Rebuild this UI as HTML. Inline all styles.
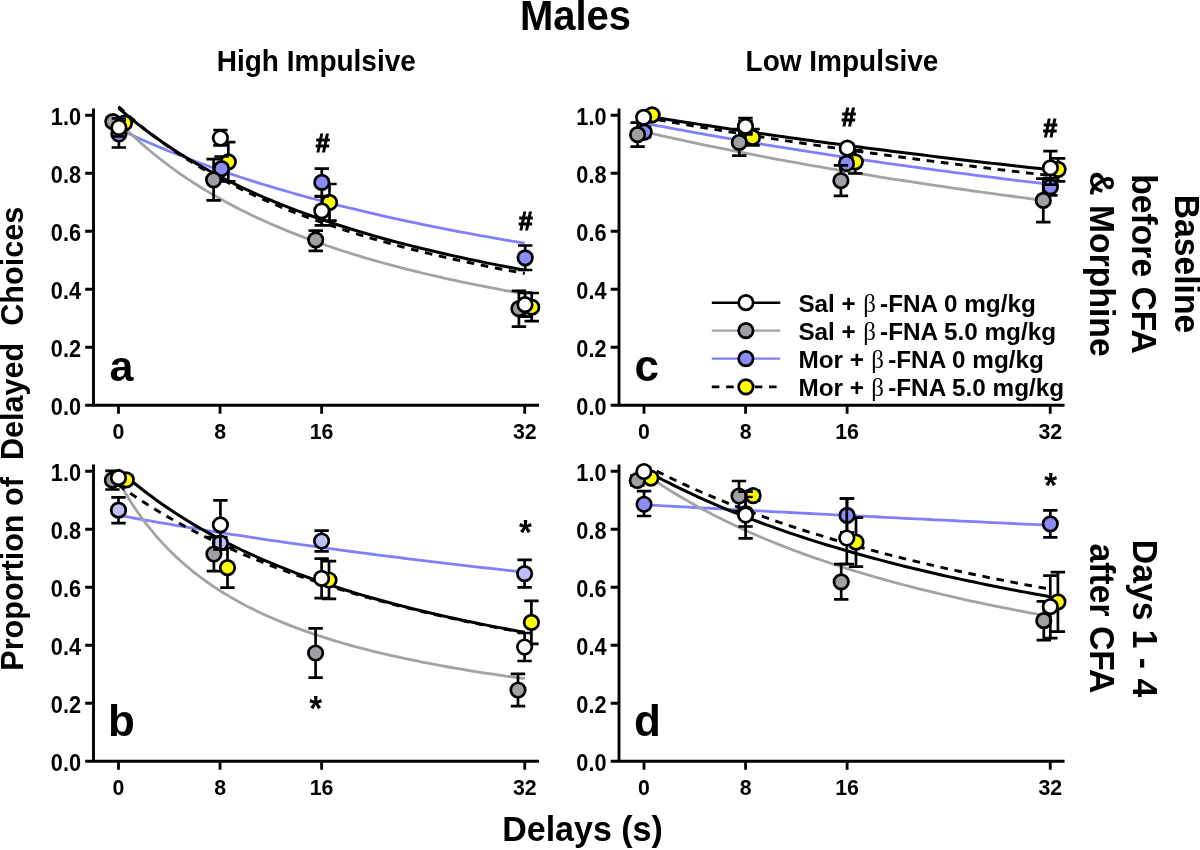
<!DOCTYPE html>
<html><head><meta charset="utf-8"><title>Males</title>
<style>html,body{margin:0;padding:0;background:#fff;width:1200px;height:850px;overflow:hidden}
svg{display:block;will-change:transform}
text{font-family:"Liberation Sans", sans-serif;font-weight:bold;fill:#000}
</style></head><body>
<svg width="1200" height="850" viewBox="0 0 1200 850">
<rect width="1200" height="850" fill="#fff"/>
<path d="M93.50 108.58 V406.70 M85.20 405.25 H539.04" stroke="#000" stroke-width="2.9" fill="none"/>
<path d="M85.20 347.25 H93.50 M85.20 289.25 H93.50 M85.20 231.25 H93.50 M85.20 173.25 H93.50 M85.20 115.25 H93.50 M118.50 405.25 V413.75 M220.06 405.25 V413.75 M321.62 405.25 V413.75 M524.74 405.25 V413.75" stroke="#000" stroke-width="2.8" fill="none"/>
<text transform="translate(81.00 414.85) scale(1 1.09)" font-size="21.7" text-anchor="end" >0.0</text>
<text transform="translate(81.00 356.85) scale(1 1.09)" font-size="21.7" text-anchor="end" >0.2</text>
<text transform="translate(81.00 298.85) scale(1 1.09)" font-size="21.7" text-anchor="end" >0.4</text>
<text transform="translate(81.00 240.85) scale(1 1.09)" font-size="21.7" text-anchor="end" >0.6</text>
<text transform="translate(81.00 182.85) scale(1 1.09)" font-size="21.7" text-anchor="end" >0.8</text>
<text transform="translate(81.00 124.85) scale(1 1.09)" font-size="21.7" text-anchor="end" >1.0</text>
<text transform="translate(118.50 439.05) scale(1 1.07)" font-size="21.3" text-anchor="middle" >0</text>
<text transform="translate(220.06 439.05) scale(1 1.07)" font-size="21.3" text-anchor="middle" >8</text>
<text transform="translate(321.62 439.05) scale(1 1.07)" font-size="21.3" text-anchor="middle" >16</text>
<text transform="translate(524.74 439.05) scale(1 1.07)" font-size="21.3" text-anchor="middle" >32</text>
<path d="M619.00 108.58 V406.70 M610.70 405.25 H1064.54" stroke="#000" stroke-width="2.9" fill="none"/>
<path d="M610.70 347.25 H619.00 M610.70 289.25 H619.00 M610.70 231.25 H619.00 M610.70 173.25 H619.00 M610.70 115.25 H619.00 M644.00 405.25 V413.75 M745.56 405.25 V413.75 M847.12 405.25 V413.75 M1050.24 405.25 V413.75" stroke="#000" stroke-width="2.8" fill="none"/>
<text transform="translate(606.50 414.85) scale(1 1.09)" font-size="21.7" text-anchor="end" >0.0</text>
<text transform="translate(606.50 356.85) scale(1 1.09)" font-size="21.7" text-anchor="end" >0.2</text>
<text transform="translate(606.50 298.85) scale(1 1.09)" font-size="21.7" text-anchor="end" >0.4</text>
<text transform="translate(606.50 240.85) scale(1 1.09)" font-size="21.7" text-anchor="end" >0.6</text>
<text transform="translate(606.50 182.85) scale(1 1.09)" font-size="21.7" text-anchor="end" >0.8</text>
<text transform="translate(606.50 124.85) scale(1 1.09)" font-size="21.7" text-anchor="end" >1.0</text>
<text transform="translate(644.00 439.05) scale(1 1.07)" font-size="21.3" text-anchor="middle" >0</text>
<text transform="translate(745.56 439.05) scale(1 1.07)" font-size="21.3" text-anchor="middle" >8</text>
<text transform="translate(847.12 439.05) scale(1 1.07)" font-size="21.3" text-anchor="middle" >16</text>
<text transform="translate(1050.24 439.05) scale(1 1.07)" font-size="21.3" text-anchor="middle" >32</text>
<path d="M93.50 464.58 V762.70 M85.20 761.25 H539.04" stroke="#000" stroke-width="2.9" fill="none"/>
<path d="M85.20 703.25 H93.50 M85.20 645.25 H93.50 M85.20 587.25 H93.50 M85.20 529.25 H93.50 M85.20 471.25 H93.50 M118.50 761.25 V769.75 M220.06 761.25 V769.75 M321.62 761.25 V769.75 M524.74 761.25 V769.75" stroke="#000" stroke-width="2.8" fill="none"/>
<text transform="translate(81.00 770.85) scale(1 1.09)" font-size="21.7" text-anchor="end" >0.0</text>
<text transform="translate(81.00 712.85) scale(1 1.09)" font-size="21.7" text-anchor="end" >0.2</text>
<text transform="translate(81.00 654.85) scale(1 1.09)" font-size="21.7" text-anchor="end" >0.4</text>
<text transform="translate(81.00 596.85) scale(1 1.09)" font-size="21.7" text-anchor="end" >0.6</text>
<text transform="translate(81.00 538.85) scale(1 1.09)" font-size="21.7" text-anchor="end" >0.8</text>
<text transform="translate(81.00 480.85) scale(1 1.09)" font-size="21.7" text-anchor="end" >1.0</text>
<text transform="translate(118.50 795.05) scale(1 1.07)" font-size="21.3" text-anchor="middle" >0</text>
<text transform="translate(220.06 795.05) scale(1 1.07)" font-size="21.3" text-anchor="middle" >8</text>
<text transform="translate(321.62 795.05) scale(1 1.07)" font-size="21.3" text-anchor="middle" >16</text>
<text transform="translate(524.74 795.05) scale(1 1.07)" font-size="21.3" text-anchor="middle" >32</text>
<path d="M619.00 464.58 V762.70 M610.70 761.25 H1064.54" stroke="#000" stroke-width="2.9" fill="none"/>
<path d="M610.70 703.25 H619.00 M610.70 645.25 H619.00 M610.70 587.25 H619.00 M610.70 529.25 H619.00 M610.70 471.25 H619.00 M644.00 761.25 V769.75 M745.56 761.25 V769.75 M847.12 761.25 V769.75 M1050.24 761.25 V769.75" stroke="#000" stroke-width="2.8" fill="none"/>
<text transform="translate(606.50 770.85) scale(1 1.09)" font-size="21.7" text-anchor="end" >0.0</text>
<text transform="translate(606.50 712.85) scale(1 1.09)" font-size="21.7" text-anchor="end" >0.2</text>
<text transform="translate(606.50 654.85) scale(1 1.09)" font-size="21.7" text-anchor="end" >0.4</text>
<text transform="translate(606.50 596.85) scale(1 1.09)" font-size="21.7" text-anchor="end" >0.6</text>
<text transform="translate(606.50 538.85) scale(1 1.09)" font-size="21.7" text-anchor="end" >0.8</text>
<text transform="translate(606.50 480.85) scale(1 1.09)" font-size="21.7" text-anchor="end" >1.0</text>
<text transform="translate(644.00 795.05) scale(1 1.07)" font-size="21.3" text-anchor="middle" >0</text>
<text transform="translate(745.56 795.05) scale(1 1.07)" font-size="21.3" text-anchor="middle" >8</text>
<text transform="translate(847.12 795.05) scale(1 1.07)" font-size="21.3" text-anchor="middle" >16</text>
<text transform="translate(1050.24 795.05) scale(1 1.07)" font-size="21.3" text-anchor="middle" >32</text>
<path d="M118.50 128.81 L124.85 131.83 L131.19 134.78 L137.54 137.67 L143.89 140.50 L150.24 143.27 L156.59 145.98 L162.93 148.63 L169.28 151.23 L175.63 153.78 L181.97 156.28 L188.32 158.73 L194.67 161.14 L201.02 163.49 L207.37 165.80 L213.71 168.07 L220.06 170.29 L226.41 172.48 L232.75 174.62 L239.10 176.72 L245.45 178.79 L251.80 180.82 L258.14 182.81 L264.49 184.77 L270.84 186.69 L277.19 188.58 L283.53 190.44 L289.88 192.27 L296.23 194.06 L302.58 195.83 L308.93 197.56 L315.27 199.27 L321.62 200.95 L327.97 202.60 L334.31 204.23 L340.66 205.83 L347.01 207.41 L353.36 208.96 L359.71 210.48 L366.05 211.98 L372.40 213.46 L378.75 214.92 L385.10 216.36 L391.44 217.77 L397.79 219.16 L404.14 220.54 L410.49 221.89 L416.83 223.22 L423.18 224.53 L429.53 225.83 L435.88 227.10 L442.22 228.36 L448.57 229.60 L454.92 230.82 L461.26 232.03 L467.61 233.22 L473.96 234.39 L480.31 235.55 L486.66 236.69 L493.00 237.82 L499.35 238.93 L505.70 240.03 L512.05 241.11 L518.39 242.18 L524.74 243.23" fill="none" stroke="#8080ff" stroke-width="2.8"/>
<path d="M118.50 121.68 L124.85 128.05 L131.19 134.16 L137.54 140.01 L143.89 145.63 L150.24 151.02 L156.59 156.21 L162.93 161.20 L169.28 166.00 L175.63 170.62 L181.97 175.08 L188.32 179.38 L194.67 183.52 L201.02 187.53 L207.37 191.40 L213.71 195.14 L220.06 198.76 L226.41 202.26 L232.75 205.65 L239.10 208.93 L245.45 212.11 L251.80 215.20 L258.14 218.19 L264.49 221.10 L270.84 223.92 L277.19 226.65 L283.53 229.32 L289.88 231.90 L296.23 234.42 L302.58 236.86 L308.93 239.24 L315.27 241.56 L321.62 243.82 L327.97 246.01 L334.31 248.16 L340.66 250.24 L347.01 252.28 L353.36 254.26 L359.71 256.20 L366.05 258.09 L372.40 259.93 L378.75 261.73 L385.10 263.49 L391.44 265.21 L397.79 266.89 L404.14 268.53 L410.49 270.14 L416.83 271.71 L423.18 273.24 L429.53 274.74 L435.88 276.21 L442.22 277.65 L448.57 279.06 L454.92 280.43 L461.26 281.78 L467.61 283.11 L473.96 284.40 L480.31 285.67 L486.66 286.92 L493.00 288.14 L499.35 289.33 L505.70 290.51 L512.05 291.66 L518.39 292.79 L524.74 293.90" fill="none" stroke="#a3a3a6" stroke-width="2.8"/>
<path d="M118.50 106.55 L124.85 112.35 L131.19 117.93 L137.54 123.30 L143.89 128.47 L150.24 133.46 L156.59 138.27 L162.93 142.91 L169.28 147.39 L175.63 151.73 L181.97 155.92 L188.32 159.97 L194.67 163.90 L201.02 167.70 L207.37 171.38 L213.71 174.95 L220.06 178.41 L226.41 181.77 L232.75 185.03 L239.10 188.20 L245.45 191.28 L251.80 194.27 L258.14 197.18 L264.49 200.01 L270.84 202.77 L277.19 205.45 L283.53 208.06 L289.88 210.61 L296.23 213.09 L302.58 215.50 L308.93 217.86 L315.27 220.16 L321.62 222.40 L327.97 224.59 L334.31 226.73 L340.66 228.82 L347.01 230.86 L353.36 232.85 L359.71 234.80 L366.05 236.70 L372.40 238.56 L378.75 240.39 L385.10 242.17 L391.44 243.91 L397.79 245.62 L404.14 247.29 L410.49 248.93 L416.83 250.53 L423.18 252.10 L429.53 253.64 L435.88 255.15 L442.22 256.63 L448.57 258.08 L454.92 259.50 L461.26 260.89 L467.61 262.26 L473.96 263.61 L480.31 264.92 L486.66 266.22 L493.00 267.49 L499.35 268.73 L505.70 269.96 L512.05 271.16 L518.39 272.34 L524.74 273.50" fill="none" stroke="#000" stroke-width="2.9" stroke-dasharray="7.6 6.7"/>
<path d="M118.50 108.00 L124.85 113.47 L131.19 118.74 L137.54 123.83 L143.89 128.74 L150.24 133.48 L156.59 138.06 L162.93 142.49 L169.28 146.77 L175.63 150.92 L181.97 154.93 L188.32 158.83 L194.67 162.60 L201.02 166.26 L207.37 169.80 L213.71 173.25 L220.06 176.60 L226.41 179.85 L232.75 183.01 L239.10 186.08 L245.45 189.07 L251.80 191.98 L258.14 194.81 L264.49 197.56 L270.84 200.25 L277.19 202.87 L283.53 205.42 L289.88 207.91 L296.23 210.33 L302.58 212.70 L308.93 215.01 L315.27 217.27 L321.62 219.47 L327.97 221.62 L334.31 223.72 L340.66 225.78 L347.01 227.79 L353.36 229.75 L359.71 231.67 L366.05 233.55 L372.40 235.39 L378.75 237.19 L385.10 238.96 L391.44 240.68 L397.79 242.37 L404.14 244.03 L410.49 245.65 L416.83 247.24 L423.18 248.80 L429.53 250.33 L435.88 251.83 L442.22 253.30 L448.57 254.74 L454.92 256.16 L461.26 257.55 L467.61 258.91 L473.96 260.25 L480.31 261.56 L486.66 262.85 L493.00 264.12 L499.35 265.37 L505.70 266.59 L512.05 267.79 L518.39 268.97 L524.74 270.14" fill="none" stroke="#000" stroke-width="3.0"/>
<path d="M124.50 119.00 V127.00 M117.30 119.00 H131.70 M117.30 127.00 H131.70" stroke="#000" stroke-width="2.7" fill="none"/>
<circle cx="124.50" cy="123.00" r="7.25" fill="#ffff00" stroke="#000" stroke-width="2.7"/>
<path d="M228.30 142.20 V181.40 M221.10 142.20 H235.50 M221.10 181.40 H235.50" stroke="#000" stroke-width="2.7" fill="none"/>
<circle cx="228.30" cy="161.80" r="7.25" fill="#ffff00" stroke="#000" stroke-width="2.7"/>
<path d="M329.50 184.00 V220.60 M322.30 184.00 H336.70 M322.30 220.60 H336.70" stroke="#000" stroke-width="2.7" fill="none"/>
<circle cx="329.50" cy="202.30" r="7.25" fill="#ffff00" stroke="#000" stroke-width="2.7"/>
<path d="M531.70 293.00 V321.10 M524.50 293.00 H538.90 M524.50 321.10 H538.90" stroke="#000" stroke-width="2.7" fill="none"/>
<circle cx="531.70" cy="307.20" r="7.25" fill="#ffff00" stroke="#000" stroke-width="2.7"/>
<path d="M118.90 120.50 V147.50 M111.70 120.50 H126.10 M111.70 147.50 H126.10" stroke="#000" stroke-width="2.7" fill="none"/>
<circle cx="118.90" cy="134.00" r="7.25" fill="#8c8cf8" stroke="#000" stroke-width="2.7"/>
<path d="M221.50 156.50 V180.90 M214.30 156.50 H228.70 M214.30 180.90 H228.70" stroke="#000" stroke-width="2.7" fill="none"/>
<circle cx="221.50" cy="168.70" r="7.25" fill="#8c8cf8" stroke="#000" stroke-width="2.7"/>
<path d="M321.80 168.60 V196.20 M314.60 168.60 H329.00 M314.60 196.20 H329.00" stroke="#000" stroke-width="2.7" fill="none"/>
<circle cx="321.80" cy="182.40" r="7.25" fill="#8c8cf8" stroke="#000" stroke-width="2.7"/>
<path d="M525.20 245.50 V270.00 M518.00 245.50 H532.40 M518.00 270.00 H532.40" stroke="#000" stroke-width="2.7" fill="none"/>
<circle cx="525.20" cy="257.80" r="7.25" fill="#8c8cf8" stroke="#000" stroke-width="2.7"/>
<path d="M112.80 117.60 V125.60 M105.60 117.60 H120.00 M105.60 125.60 H120.00" stroke="#000" stroke-width="2.7" fill="none"/>
<circle cx="112.80" cy="121.60" r="7.25" fill="#a0a0a4" stroke="#000" stroke-width="2.7"/>
<path d="M213.60 159.20 V200.40 M206.40 159.20 H220.80 M206.40 200.40 H220.80" stroke="#000" stroke-width="2.7" fill="none"/>
<circle cx="213.60" cy="179.80" r="7.25" fill="#a0a0a4" stroke="#000" stroke-width="2.7"/>
<path d="M315.70 230.70 V250.90 M308.50 230.70 H322.90 M308.50 250.90 H322.90" stroke="#000" stroke-width="2.7" fill="none"/>
<circle cx="315.70" cy="239.90" r="7.25" fill="#a0a0a4" stroke="#000" stroke-width="2.7"/>
<path d="M518.90 290.90 V326.60 M511.70 290.90 H526.10 M511.70 326.60 H526.10" stroke="#000" stroke-width="2.7" fill="none"/>
<circle cx="518.90" cy="308.70" r="7.25" fill="#a0a0a4" stroke="#000" stroke-width="2.7"/>
<path d="M118.90 118.50 V136.50 M111.70 118.50 H126.10 M111.70 136.50 H126.10" stroke="#000" stroke-width="2.7" fill="none"/>
<circle cx="118.90" cy="127.50" r="7.25" fill="#fff" stroke="#000" stroke-width="2.7"/>
<path d="M220.40 130.00 V145.40 M213.20 130.00 H227.60 M213.20 145.40 H227.60" stroke="#000" stroke-width="2.7" fill="none"/>
<circle cx="220.40" cy="138.00" r="7.25" fill="#fff" stroke="#000" stroke-width="2.7"/>
<path d="M321.80 196.30 V225.30 M314.60 196.30 H329.00 M314.60 225.30 H329.00" stroke="#000" stroke-width="2.7" fill="none"/>
<circle cx="321.80" cy="210.80" r="7.25" fill="#fff" stroke="#000" stroke-width="2.7"/>
<path d="M525.00 292.70 V316.70 M517.80 292.70 H532.20 M517.80 316.70 H532.20" stroke="#000" stroke-width="2.7" fill="none"/>
<circle cx="525.00" cy="304.70" r="7.25" fill="#fff" stroke="#000" stroke-width="2.7"/>
<path d="M644.00 123.08 L650.35 124.30 L656.70 125.51 L663.04 126.71 L669.39 127.89 L675.74 129.07 L682.09 130.24 L688.43 131.40 L694.78 132.55 L701.13 133.69 L707.48 134.82 L713.82 135.94 L720.17 137.05 L726.52 138.15 L732.87 139.24 L739.21 140.33 L745.56 141.40 L751.91 142.47 L758.25 143.53 L764.60 144.58 L770.95 145.62 L777.30 146.65 L783.64 147.67 L789.99 148.69 L796.34 149.70 L802.69 150.70 L809.03 151.69 L815.38 152.68 L821.73 153.65 L828.08 154.62 L834.42 155.59 L840.77 156.54 L847.12 157.49 L853.47 158.43 L859.82 159.36 L866.16 160.29 L872.51 161.21 L878.86 162.12 L885.21 163.03 L891.55 163.93 L897.90 164.82 L904.25 165.70 L910.60 166.58 L916.94 167.46 L923.29 168.32 L929.64 169.18 L935.99 170.04 L942.33 170.89 L948.68 171.73 L955.03 172.56 L961.38 173.39 L967.72 174.22 L974.07 175.03 L980.42 175.85 L986.76 176.65 L993.11 177.45 L999.46 178.25 L1005.81 179.04 L1012.15 179.82 L1018.50 180.60 L1024.85 181.38 L1031.20 182.14 L1037.55 182.91 L1043.89 183.67 L1050.24 184.42" fill="none" stroke="#8080ff" stroke-width="2.8"/>
<path d="M644.00 131.78 L650.35 133.23 L656.70 134.66 L663.04 136.08 L669.39 137.48 L675.74 138.87 L682.09 140.24 L688.43 141.60 L694.78 142.94 L701.13 144.28 L707.48 145.59 L713.82 146.90 L720.17 148.19 L726.52 149.47 L732.87 150.74 L739.21 151.99 L745.56 153.23 L751.91 154.46 L758.25 155.68 L764.60 156.88 L770.95 158.08 L777.30 159.26 L783.64 160.43 L789.99 161.59 L796.34 162.74 L802.69 163.88 L809.03 165.01 L815.38 166.13 L821.73 167.23 L828.08 168.33 L834.42 169.42 L840.77 170.50 L847.12 171.56 L853.47 172.62 L859.82 173.67 L866.16 174.71 L872.51 175.74 L878.86 176.76 L885.21 177.77 L891.55 178.77 L897.90 179.76 L904.25 180.75 L910.60 181.72 L916.94 182.69 L923.29 183.65 L929.64 184.60 L935.99 185.55 L942.33 186.48 L948.68 187.41 L955.03 188.33 L961.38 189.24 L967.72 190.14 L974.07 191.04 L980.42 191.93 L986.76 192.81 L993.11 193.68 L999.46 194.55 L1005.81 195.41 L1012.15 196.26 L1018.50 197.11 L1024.85 197.95 L1031.20 198.78 L1037.55 199.61 L1043.89 200.43 L1050.24 201.24" fill="none" stroke="#a3a3a6" stroke-width="2.8"/>
<path d="M644.00 117.28 L650.35 118.42 L656.70 119.55 L663.04 120.67 L669.39 121.78 L675.74 122.88 L682.09 123.97 L688.43 125.06 L694.78 126.13 L701.13 127.20 L707.48 128.26 L713.82 129.31 L720.17 130.36 L726.52 131.40 L732.87 132.42 L739.21 133.45 L745.56 134.46 L751.91 135.46 L758.25 136.46 L764.60 137.45 L770.95 138.44 L777.30 139.41 L783.64 140.38 L789.99 141.35 L796.34 142.30 L802.69 143.25 L809.03 144.19 L815.38 145.13 L821.73 146.06 L828.08 146.98 L834.42 147.89 L840.77 148.80 L847.12 149.70 L853.47 150.60 L859.82 151.49 L866.16 152.37 L872.51 153.25 L878.86 154.12 L885.21 154.99 L891.55 155.85 L897.90 156.70 L904.25 157.55 L910.60 158.39 L916.94 159.23 L923.29 160.06 L929.64 160.88 L935.99 161.70 L942.33 162.51 L948.68 163.32 L955.03 164.13 L961.38 164.92 L967.72 165.72 L974.07 166.50 L980.42 167.29 L986.76 168.06 L993.11 168.84 L999.46 169.60 L1005.81 170.37 L1012.15 171.12 L1018.50 171.87 L1024.85 172.62 L1031.20 173.36 L1037.55 174.10 L1043.89 174.84 L1050.24 175.56" fill="none" stroke="#000" stroke-width="2.9" stroke-dasharray="7.6 6.7"/>
<path d="M644.00 115.54 L650.35 116.58 L656.70 117.61 L663.04 118.63 L669.39 119.65 L675.74 120.66 L682.09 121.66 L688.43 122.65 L694.78 123.64 L701.13 124.62 L707.48 125.59 L713.82 126.56 L720.17 127.52 L726.52 128.48 L732.87 129.42 L739.21 130.36 L745.56 131.30 L751.91 132.23 L758.25 133.15 L764.60 134.06 L770.95 134.97 L777.30 135.88 L783.64 136.77 L789.99 137.67 L796.34 138.55 L802.69 139.43 L809.03 140.30 L815.38 141.17 L821.73 142.04 L828.08 142.89 L834.42 143.74 L840.77 144.59 L847.12 145.43 L853.47 146.26 L859.82 147.09 L866.16 147.92 L872.51 148.74 L878.86 149.55 L885.21 150.36 L891.55 151.16 L897.90 151.96 L904.25 152.76 L910.60 153.54 L916.94 154.33 L923.29 155.11 L929.64 155.88 L935.99 156.65 L942.33 157.42 L948.68 158.18 L955.03 158.93 L961.38 159.68 L967.72 160.43 L974.07 161.17 L980.42 161.91 L986.76 162.64 L993.11 163.37 L999.46 164.09 L1005.81 164.81 L1012.15 165.53 L1018.50 166.24 L1024.85 166.94 L1031.20 167.65 L1037.55 168.34 L1043.89 169.04 L1050.24 169.73" fill="none" stroke="#000" stroke-width="3.0"/>
<path d="M652.10 111.80 V117.80 M644.90 111.80 H659.30 M644.90 117.80 H659.30" stroke="#000" stroke-width="2.7" fill="none"/>
<circle cx="652.10" cy="114.80" r="7.25" fill="#ffff00" stroke="#000" stroke-width="2.7"/>
<path d="M752.50 129.20 V145.30 M745.30 129.20 H759.70 M745.30 145.30 H759.70" stroke="#000" stroke-width="2.7" fill="none"/>
<circle cx="752.50" cy="137.40" r="7.25" fill="#ffff00" stroke="#000" stroke-width="2.7"/>
<path d="M855.30 150.10 V173.50 M848.10 150.10 H862.50 M848.10 173.50 H862.50" stroke="#000" stroke-width="2.7" fill="none"/>
<circle cx="855.30" cy="161.80" r="7.25" fill="#ffff00" stroke="#000" stroke-width="2.7"/>
<path d="M1058.10 158.40 V181.30 M1050.90 158.40 H1065.30 M1050.90 181.30 H1065.30" stroke="#000" stroke-width="2.7" fill="none"/>
<circle cx="1058.10" cy="169.30" r="7.25" fill="#ffff00" stroke="#000" stroke-width="2.7"/>
<path d="M644.20 127.10 V137.10 M637.00 127.10 H651.40 M637.00 137.10 H651.40" stroke="#000" stroke-width="2.7" fill="none"/>
<circle cx="644.20" cy="132.10" r="7.25" fill="#8c8cf8" stroke="#000" stroke-width="2.7"/>
<path d="M745.50 121.00 V133.00 M738.30 121.00 H752.70 M738.30 133.00 H752.70" stroke="#000" stroke-width="2.7" fill="none"/>
<circle cx="745.50" cy="127.00" r="7.25" fill="#8c8cf8" stroke="#000" stroke-width="2.7"/>
<path d="M846.50 158.50 V168.50 M839.30 158.50 H853.70 M839.30 168.50 H853.70" stroke="#000" stroke-width="2.7" fill="none"/>
<circle cx="846.50" cy="163.50" r="7.25" fill="#8c8cf8" stroke="#000" stroke-width="2.7"/>
<path d="M1050.40 178.40 V195.40 M1043.20 178.40 H1057.60 M1043.20 195.40 H1057.60" stroke="#000" stroke-width="2.7" fill="none"/>
<circle cx="1050.40" cy="186.90" r="7.25" fill="#8c8cf8" stroke="#000" stroke-width="2.7"/>
<path d="M637.60 122.60 V146.60 M630.40 122.60 H644.80 M630.40 146.60 H644.80" stroke="#000" stroke-width="2.7" fill="none"/>
<circle cx="637.60" cy="134.60" r="7.25" fill="#a0a0a4" stroke="#000" stroke-width="2.7"/>
<path d="M739.30 129.20 V155.60 M732.10 129.20 H746.50 M732.10 155.60 H746.50" stroke="#000" stroke-width="2.7" fill="none"/>
<circle cx="739.30" cy="142.40" r="7.25" fill="#a0a0a4" stroke="#000" stroke-width="2.7"/>
<path d="M840.90 165.30 V195.90 M833.70 165.30 H848.10 M833.70 195.90 H848.10" stroke="#000" stroke-width="2.7" fill="none"/>
<circle cx="840.90" cy="180.60" r="7.25" fill="#a0a0a4" stroke="#000" stroke-width="2.7"/>
<path d="M1043.30 178.60 V222.20 M1036.10 178.60 H1050.50 M1036.10 222.20 H1050.50" stroke="#000" stroke-width="2.7" fill="none"/>
<circle cx="1043.30" cy="200.40" r="7.25" fill="#a0a0a4" stroke="#000" stroke-width="2.7"/>
<path d="M643.60 114.30 V120.30 M636.40 114.30 H650.80 M636.40 120.30 H650.80" stroke="#000" stroke-width="2.7" fill="none"/>
<circle cx="643.60" cy="117.30" r="7.25" fill="#fff" stroke="#000" stroke-width="2.7"/>
<path d="M745.50 118.10 V134.50 M738.30 118.10 H752.70 M738.30 134.50 H752.70" stroke="#000" stroke-width="2.7" fill="none"/>
<circle cx="745.50" cy="126.30" r="7.25" fill="#fff" stroke="#000" stroke-width="2.7"/>
<path d="M847.30 144.20 V152.20 M840.10 144.20 H854.50 M840.10 152.20 H854.50" stroke="#000" stroke-width="2.7" fill="none"/>
<circle cx="847.30" cy="148.20" r="7.25" fill="#fff" stroke="#000" stroke-width="2.7"/>
<path d="M1050.40 151.20 V184.60 M1043.20 151.20 H1057.60 M1043.20 184.60 H1057.60" stroke="#000" stroke-width="2.7" fill="none"/>
<circle cx="1050.40" cy="167.90" r="7.25" fill="#fff" stroke="#000" stroke-width="2.7"/>
<path d="M118.50 515.33 L124.85 516.48 L131.19 517.62 L137.54 518.75 L143.89 519.87 L150.24 520.97 L156.59 522.07 L162.93 523.16 L169.28 524.24 L175.63 525.31 L181.97 526.37 L188.32 527.42 L194.67 528.46 L201.02 529.49 L207.37 530.51 L213.71 531.52 L220.06 532.53 L226.41 533.52 L232.75 534.51 L239.10 535.49 L245.45 536.46 L251.80 537.42 L258.14 538.37 L264.49 539.32 L270.84 540.26 L277.19 541.18 L283.53 542.11 L289.88 543.02 L296.23 543.93 L302.58 544.83 L308.93 545.72 L315.27 546.60 L321.62 547.48 L327.97 548.35 L334.31 549.21 L340.66 550.07 L347.01 550.92 L353.36 551.76 L359.71 552.59 L366.05 553.42 L372.40 554.24 L378.75 555.06 L385.10 555.87 L391.44 556.67 L397.79 557.47 L404.14 558.26 L410.49 559.04 L416.83 559.82 L423.18 560.59 L429.53 561.36 L435.88 562.12 L442.22 562.88 L448.57 563.63 L454.92 564.37 L461.26 565.11 L467.61 565.84 L473.96 566.57 L480.31 567.29 L486.66 568.01 L493.00 568.72 L499.35 569.42 L505.70 570.12 L512.05 570.82 L518.39 571.51 L524.74 572.19" fill="none" stroke="#8080ff" stroke-width="2.8"/>
<path d="M118.50 481.03 L124.85 492.27 L131.19 502.58 L137.54 512.07 L143.89 520.85 L150.24 528.98 L156.59 536.55 L162.93 543.60 L169.28 550.19 L175.63 556.37 L181.97 562.17 L188.32 567.63 L194.67 572.78 L201.02 577.64 L207.37 582.24 L213.71 586.59 L220.06 590.73 L226.41 594.66 L232.75 598.40 L239.10 601.96 L245.45 605.36 L251.80 608.61 L258.14 611.72 L264.49 614.69 L270.84 617.54 L277.19 620.27 L283.53 622.89 L289.88 625.41 L296.23 627.83 L302.58 630.17 L308.93 632.41 L315.27 634.57 L321.62 636.66 L327.97 638.68 L334.31 640.62 L340.66 642.50 L347.01 644.32 L353.36 646.08 L359.71 647.79 L366.05 649.44 L372.40 651.04 L378.75 652.59 L385.10 654.09 L391.44 655.55 L397.79 656.97 L404.14 658.35 L410.49 659.69 L416.83 660.99 L423.18 662.26 L429.53 663.49 L435.88 664.69 L442.22 665.86 L448.57 667.00 L454.92 668.11 L461.26 669.19 L467.61 670.25 L473.96 671.28 L480.31 672.28 L486.66 673.26 L493.00 674.22 L499.35 675.16 L505.70 676.07 L512.05 676.97 L518.39 677.84 L524.74 678.70" fill="none" stroke="#a3a3a6" stroke-width="2.8"/>
<path d="M118.50 485.05 L124.85 489.55 L131.19 493.92 L137.54 498.17 L143.89 502.29 L150.24 506.30 L156.59 510.20 L162.93 513.99 L169.28 517.69 L175.63 521.28 L181.97 524.78 L188.32 528.19 L194.67 531.51 L201.02 534.74 L207.37 537.90 L213.71 540.97 L220.06 543.97 L226.41 546.90 L232.75 549.76 L239.10 552.55 L245.45 555.27 L251.80 557.93 L258.14 560.53 L264.49 563.07 L270.84 565.55 L277.19 567.98 L283.53 570.35 L289.88 572.67 L296.23 574.94 L302.58 577.16 L308.93 579.34 L315.27 581.46 L321.62 583.55 L327.97 585.59 L334.31 587.59 L340.66 589.55 L347.01 591.46 L353.36 593.34 L359.71 595.19 L366.05 596.99 L372.40 598.77 L378.75 600.50 L385.10 602.21 L391.44 603.88 L397.79 605.52 L404.14 607.13 L410.49 608.71 L416.83 610.26 L423.18 611.79 L429.53 613.28 L435.88 614.75 L442.22 616.19 L448.57 617.61 L454.92 619.00 L461.26 620.37 L467.61 621.72 L473.96 623.04 L480.31 624.34 L486.66 625.61 L493.00 626.87 L499.35 628.11 L505.70 629.32 L512.05 630.52 L518.39 631.69 L524.74 632.85" fill="none" stroke="#000" stroke-width="2.9" stroke-dasharray="7.6 6.7"/>
<path d="M118.50 469.53 L124.85 475.13 L131.19 480.52 L137.54 485.72 L143.89 490.72 L150.24 495.55 L156.59 500.21 L162.93 504.71 L169.28 509.06 L175.63 513.27 L181.97 517.34 L188.32 521.28 L194.67 525.09 L201.02 528.79 L207.37 532.37 L213.71 535.85 L220.06 539.22 L226.41 542.49 L232.75 545.67 L239.10 548.76 L245.45 551.77 L251.80 554.69 L258.14 557.53 L264.49 560.29 L270.84 562.98 L277.19 565.60 L283.53 568.15 L289.88 570.64 L296.23 573.06 L302.58 575.43 L308.93 577.73 L315.27 579.98 L321.62 582.18 L327.97 584.32 L334.31 586.41 L340.66 588.46 L347.01 590.45 L353.36 592.41 L359.71 594.32 L366.05 596.18 L372.40 598.01 L378.75 599.79 L385.10 601.54 L391.44 603.25 L397.79 604.92 L404.14 606.56 L410.49 608.17 L416.83 609.74 L423.18 611.28 L429.53 612.80 L435.88 614.28 L442.22 615.73 L448.57 617.15 L454.92 618.55 L461.26 619.92 L467.61 621.26 L473.96 622.58 L480.31 623.87 L486.66 625.14 L493.00 626.39 L499.35 627.62 L505.70 628.82 L512.05 630.00 L518.39 631.16 L524.74 632.30" fill="none" stroke="#000" stroke-width="3.0"/>
<path d="M126.30 475.80 V483.80 M119.10 475.80 H133.50 M119.10 483.80 H133.50" stroke="#000" stroke-width="2.7" fill="none"/>
<circle cx="126.30" cy="479.80" r="7.25" fill="#ffff00" stroke="#000" stroke-width="2.7"/>
<path d="M227.50 547.60 V587.60 M220.30 547.60 H234.70 M220.30 587.60 H234.70" stroke="#000" stroke-width="2.7" fill="none"/>
<circle cx="227.50" cy="567.60" r="7.25" fill="#ffff00" stroke="#000" stroke-width="2.7"/>
<path d="M329.00 561.10 V598.90 M321.80 561.10 H336.20 M321.80 598.90 H336.20" stroke="#000" stroke-width="2.7" fill="none"/>
<circle cx="329.00" cy="580.00" r="7.25" fill="#ffff00" stroke="#000" stroke-width="2.7"/>
<path d="M531.40 600.90 V643.90 M524.20 600.90 H538.60 M524.20 643.90 H538.60" stroke="#000" stroke-width="2.7" fill="none"/>
<circle cx="531.40" cy="622.40" r="7.25" fill="#ffff00" stroke="#000" stroke-width="2.7"/>
<path d="M118.50 497.30 V523.10 M111.30 497.30 H125.70 M111.30 523.10 H125.70" stroke="#000" stroke-width="2.7" fill="none"/>
<circle cx="118.50" cy="510.20" r="7.25" fill="#bebefb" stroke="#000" stroke-width="2.7"/>
<path d="M220.40 537.00 V549.00 M213.20 537.00 H227.60 M213.20 549.00 H227.60" stroke="#000" stroke-width="2.7" fill="none"/>
<circle cx="220.40" cy="543.00" r="7.25" fill="#bebefb" stroke="#000" stroke-width="2.7"/>
<path d="M321.60 530.70 V551.30 M314.40 530.70 H328.80 M314.40 551.30 H328.80" stroke="#000" stroke-width="2.7" fill="none"/>
<circle cx="321.60" cy="541.00" r="7.25" fill="#bebefb" stroke="#000" stroke-width="2.7"/>
<path d="M524.60 559.90 V587.30 M517.40 559.90 H531.80 M517.40 587.30 H531.80" stroke="#000" stroke-width="2.7" fill="none"/>
<circle cx="524.60" cy="573.60" r="7.25" fill="#bebefb" stroke="#000" stroke-width="2.7"/>
<path d="M112.40 470.90 V489.50 M105.20 470.90 H119.60 M105.20 489.50 H119.60" stroke="#000" stroke-width="2.7" fill="none"/>
<circle cx="112.40" cy="480.20" r="7.25" fill="#a0a0a4" stroke="#000" stroke-width="2.7"/>
<path d="M213.90 537.00 V571.20 M206.70 537.00 H221.10 M206.70 571.20 H221.10" stroke="#000" stroke-width="2.7" fill="none"/>
<circle cx="213.90" cy="554.00" r="7.25" fill="#a0a0a4" stroke="#000" stroke-width="2.7"/>
<path d="M315.60 628.30 V677.70 M308.40 628.30 H322.80 M308.40 677.70 H322.80" stroke="#000" stroke-width="2.7" fill="none"/>
<circle cx="315.60" cy="653.00" r="7.25" fill="#a0a0a4" stroke="#000" stroke-width="2.7"/>
<path d="M518.00 673.80 V706.20 M510.80 673.80 H525.20 M510.80 706.20 H525.20" stroke="#000" stroke-width="2.7" fill="none"/>
<circle cx="518.00" cy="690.00" r="7.25" fill="#a0a0a4" stroke="#000" stroke-width="2.7"/>
<path d="M118.50 473.70 V481.70 M111.30 473.70 H125.70 M111.30 481.70 H125.70" stroke="#000" stroke-width="2.7" fill="none"/>
<circle cx="118.50" cy="477.70" r="7.25" fill="#fff" stroke="#000" stroke-width="2.7"/>
<path d="M220.40 500.30 V549.50 M213.20 500.30 H227.60 M213.20 549.50 H227.60" stroke="#000" stroke-width="2.7" fill="none"/>
<circle cx="220.40" cy="524.90" r="7.25" fill="#fff" stroke="#000" stroke-width="2.7"/>
<path d="M321.60 558.60 V598.20 M314.40 558.60 H328.80 M314.40 598.20 H328.80" stroke="#000" stroke-width="2.7" fill="none"/>
<circle cx="321.60" cy="578.40" r="7.25" fill="#fff" stroke="#000" stroke-width="2.7"/>
<path d="M524.60 633.00 V661.00 M517.40 633.00 H531.80 M517.40 661.00 H531.80" stroke="#000" stroke-width="2.7" fill="none"/>
<circle cx="524.60" cy="647.00" r="7.25" fill="#fff" stroke="#000" stroke-width="2.7"/>
<path d="M644.00 504.75 L650.35 505.09 L656.70 505.44 L663.04 505.79 L669.39 506.13 L675.74 506.48 L682.09 506.82 L688.43 507.16 L694.78 507.50 L701.13 507.84 L707.48 508.18 L713.82 508.52 L720.17 508.86 L726.52 509.20 L732.87 509.53 L739.21 509.87 L745.56 510.20 L751.91 510.54 L758.25 510.87 L764.60 511.20 L770.95 511.53 L777.30 511.86 L783.64 512.19 L789.99 512.52 L796.34 512.84 L802.69 513.17 L809.03 513.50 L815.38 513.82 L821.73 514.14 L828.08 514.47 L834.42 514.79 L840.77 515.11 L847.12 515.43 L853.47 515.75 L859.82 516.07 L866.16 516.39 L872.51 516.70 L878.86 517.02 L885.21 517.34 L891.55 517.65 L897.90 517.97 L904.25 518.28 L910.60 518.59 L916.94 518.90 L923.29 519.21 L929.64 519.52 L935.99 519.83 L942.33 520.14 L948.68 520.45 L955.03 520.75 L961.38 521.06 L967.72 521.37 L974.07 521.67 L980.42 521.97 L986.76 522.28 L993.11 522.58 L999.46 522.88 L1005.81 523.18 L1012.15 523.48 L1018.50 523.78 L1024.85 524.08 L1031.20 524.37 L1037.55 524.67 L1043.89 524.97 L1050.24 525.26" fill="none" stroke="#8080ff" stroke-width="2.8"/>
<path d="M644.00 473.28 L650.35 477.67 L656.70 481.92 L663.04 486.05 L669.39 490.06 L675.74 493.95 L682.09 497.73 L688.43 501.41 L694.78 504.99 L701.13 508.46 L707.48 511.85 L713.82 515.15 L720.17 518.36 L726.52 521.48 L732.87 524.53 L739.21 527.50 L745.56 530.40 L751.91 533.23 L758.25 535.99 L764.60 538.68 L770.95 541.31 L777.30 543.88 L783.64 546.38 L789.99 548.83 L796.34 551.23 L802.69 553.57 L809.03 555.86 L815.38 558.10 L821.73 560.30 L828.08 562.44 L834.42 564.54 L840.77 566.60 L847.12 568.61 L853.47 570.58 L859.82 572.52 L866.16 574.41 L872.51 576.27 L878.86 578.09 L885.21 579.87 L891.55 581.62 L897.90 583.34 L904.25 585.02 L910.60 586.67 L916.94 588.29 L923.29 589.89 L929.64 591.45 L935.99 592.98 L942.33 594.49 L948.68 595.97 L955.03 597.42 L961.38 598.85 L967.72 600.26 L974.07 601.64 L980.42 602.99 L986.76 604.33 L993.11 605.64 L999.46 606.93 L1005.81 608.20 L1012.15 609.44 L1018.50 610.67 L1024.85 611.88 L1031.20 613.07 L1037.55 614.24 L1043.89 615.39 L1050.24 616.52" fill="none" stroke="#a3a3a6" stroke-width="2.8"/>
<path d="M644.00 464.58 L650.35 467.90 L656.70 471.15 L663.04 474.32 L669.39 477.43 L675.74 480.47 L682.09 483.44 L688.43 486.35 L694.78 489.21 L701.13 492.00 L707.48 494.74 L713.82 497.42 L720.17 500.05 L726.52 502.62 L732.87 505.15 L739.21 507.63 L745.56 510.06 L751.91 512.44 L758.25 514.78 L764.60 517.07 L770.95 519.33 L777.30 521.54 L783.64 523.71 L789.99 525.84 L796.34 527.94 L802.69 530.00 L809.03 532.02 L815.38 534.00 L821.73 535.96 L828.08 537.88 L834.42 539.76 L840.77 541.62 L847.12 543.44 L853.47 545.24 L859.82 547.00 L866.16 548.74 L872.51 550.45 L878.86 552.13 L885.21 553.78 L891.55 555.41 L897.90 557.02 L904.25 558.59 L910.60 560.15 L916.94 561.68 L923.29 563.19 L929.64 564.67 L935.99 566.14 L942.33 567.58 L948.68 569.00 L955.03 570.40 L961.38 571.78 L967.72 573.13 L974.07 574.47 L980.42 575.80 L986.76 577.10 L993.11 578.38 L999.46 579.65 L1005.81 580.90 L1012.15 582.13 L1018.50 583.35 L1024.85 584.55 L1031.20 585.73 L1037.55 586.90 L1043.89 588.05 L1050.24 589.18" fill="none" stroke="#000" stroke-width="2.9" stroke-dasharray="7.6 6.7"/>
<path d="M644.00 469.80 L650.35 473.27 L656.70 476.66 L663.04 479.97 L669.39 483.20 L675.74 486.36 L682.09 489.45 L688.43 492.47 L694.78 495.43 L701.13 498.32 L707.48 501.14 L713.82 503.91 L720.17 506.62 L726.52 509.27 L732.87 511.87 L739.21 514.42 L745.56 516.91 L751.91 519.35 L758.25 521.75 L764.60 524.10 L770.95 526.40 L777.30 528.66 L783.64 530.87 L789.99 533.05 L796.34 535.18 L802.69 537.27 L809.03 539.33 L815.38 541.35 L821.73 543.33 L828.08 545.27 L834.42 547.18 L840.77 549.06 L847.12 550.91 L853.47 552.72 L859.82 554.50 L866.16 556.26 L872.51 557.98 L878.86 559.67 L885.21 561.34 L891.55 562.98 L897.90 564.59 L904.25 566.18 L910.60 567.74 L916.94 569.27 L923.29 570.78 L929.64 572.27 L935.99 573.74 L942.33 575.18 L948.68 576.60 L955.03 578.00 L961.38 579.38 L967.72 580.74 L974.07 582.07 L980.42 583.39 L986.76 584.69 L993.11 585.97 L999.46 587.23 L1005.81 588.47 L1012.15 589.70 L1018.50 590.91 L1024.85 592.10 L1031.20 593.27 L1037.55 594.43 L1043.89 595.57 L1050.24 596.70" fill="none" stroke="#000" stroke-width="3.0"/>
<path d="M650.90 475.10 V481.10 M643.70 475.10 H658.10 M643.70 481.10 H658.10" stroke="#000" stroke-width="2.7" fill="none"/>
<circle cx="650.90" cy="478.10" r="7.25" fill="#ffff00" stroke="#000" stroke-width="2.7"/>
<path d="M753.10 490.60 V500.60 M745.90 490.60 H760.30 M745.90 500.60 H760.30" stroke="#000" stroke-width="2.7" fill="none"/>
<circle cx="753.10" cy="495.60" r="7.25" fill="#ffff00" stroke="#000" stroke-width="2.7"/>
<path d="M856.00 517.70 V566.70 M848.80 517.70 H863.20 M848.80 566.70 H863.20" stroke="#000" stroke-width="2.7" fill="none"/>
<circle cx="856.00" cy="542.20" r="7.25" fill="#ffff00" stroke="#000" stroke-width="2.7"/>
<path d="M1057.90 572.10 V631.70 M1050.70 572.10 H1065.10 M1050.70 631.70 H1065.10" stroke="#000" stroke-width="2.7" fill="none"/>
<circle cx="1057.90" cy="601.90" r="7.25" fill="#ffff00" stroke="#000" stroke-width="2.7"/>
<path d="M644.05 491.20 V516.00 M636.85 491.20 H651.25 M636.85 516.00 H651.25" stroke="#000" stroke-width="2.7" fill="none"/>
<circle cx="644.05" cy="504.25" r="7.25" fill="#8c8cf8" stroke="#000" stroke-width="2.7"/>
<path d="M745.60 497.00 V526.50 M738.40 497.00 H752.80 M738.40 526.50 H752.80" stroke="#000" stroke-width="2.7" fill="none"/>
<circle cx="745.60" cy="513.50" r="7.25" fill="#8c8cf8" stroke="#000" stroke-width="2.7"/>
<path d="M847.10 498.50 V532.30 M839.90 498.50 H854.30 M839.90 532.30 H854.30" stroke="#000" stroke-width="2.7" fill="none"/>
<circle cx="847.10" cy="515.40" r="7.25" fill="#8c8cf8" stroke="#000" stroke-width="2.7"/>
<path d="M1050.30 510.30 V537.30 M1043.10 510.30 H1057.50 M1043.10 537.30 H1057.50" stroke="#000" stroke-width="2.7" fill="none"/>
<circle cx="1050.30" cy="523.80" r="7.25" fill="#8c8cf8" stroke="#000" stroke-width="2.7"/>
<path d="M637.30 475.50 V485.50 M630.10 475.50 H644.50 M630.10 485.50 H644.50" stroke="#000" stroke-width="2.7" fill="none"/>
<circle cx="637.30" cy="480.50" r="7.25" fill="#a0a0a4" stroke="#000" stroke-width="2.7"/>
<path d="M739.00 481.00 V511.00 M731.80 481.00 H746.20 M731.80 511.00 H746.20" stroke="#000" stroke-width="2.7" fill="none"/>
<circle cx="739.00" cy="496.00" r="7.25" fill="#a0a0a4" stroke="#000" stroke-width="2.7"/>
<path d="M841.20 564.20 V599.40 M834.00 564.20 H848.40 M834.00 599.40 H848.40" stroke="#000" stroke-width="2.7" fill="none"/>
<circle cx="841.20" cy="581.80" r="7.25" fill="#a0a0a4" stroke="#000" stroke-width="2.7"/>
<path d="M1043.80 601.30 V640.10 M1036.60 601.30 H1051.00 M1036.60 640.10 H1051.00" stroke="#000" stroke-width="2.7" fill="none"/>
<circle cx="1043.80" cy="620.70" r="7.25" fill="#a0a0a4" stroke="#000" stroke-width="2.7"/>
<path d="M643.90 468.50 V474.50 M636.70 468.50 H651.10 M636.70 474.50 H651.10" stroke="#000" stroke-width="2.7" fill="none"/>
<circle cx="643.90" cy="471.50" r="7.25" fill="#fff" stroke="#000" stroke-width="2.7"/>
<path d="M745.60 491.60 V538.30 M738.40 491.60 H752.80 M738.40 538.30 H752.80" stroke="#000" stroke-width="2.7" fill="none"/>
<circle cx="745.60" cy="515.00" r="7.25" fill="#fff" stroke="#000" stroke-width="2.7"/>
<path d="M846.80 498.50 V564.00 M839.60 498.50 H854.00 M839.60 564.00 H854.00" stroke="#000" stroke-width="2.7" fill="none"/>
<circle cx="846.80" cy="538.00" r="7.25" fill="#fff" stroke="#000" stroke-width="2.7"/>
<path d="M1050.30 575.60 V638.10 M1043.10 575.60 H1057.50 M1043.10 638.10 H1057.50" stroke="#000" stroke-width="2.7" fill="none"/>
<circle cx="1050.30" cy="606.60" r="7.25" fill="#fff" stroke="#000" stroke-width="2.7"/>
<text transform="translate(109.50 381.00)" font-size="43" text-anchor="start" >a</text>
<text transform="translate(108.00 736.00)" font-size="44" text-anchor="start" >b</text>
<text transform="translate(634.50 381.00)" font-size="44" text-anchor="start" >c</text>
<text transform="translate(634.00 736.00)" font-size="44" text-anchor="start" >d</text>
<text transform="translate(322.60 152.40) scale(1 1.04)" font-size="25" text-anchor="middle" stroke="#000" stroke-width="1.1">#</text>
<text transform="translate(525.60 229.80) scale(1 1.04)" font-size="25" text-anchor="middle" stroke="#000" stroke-width="1.1">#</text>
<text transform="translate(848.60 126.40) scale(1 1.04)" font-size="25" text-anchor="middle" stroke="#000" stroke-width="1.1">#</text>
<text transform="translate(1050.20 136.70) scale(1 1.04)" font-size="25" text-anchor="middle" stroke="#000" stroke-width="1.1">#</text>
<text transform="translate(315.60 719.50) scale(1 1.04)" font-size="33" text-anchor="middle" >*</text>
<text transform="translate(525.50 543.50) scale(1 1.04)" font-size="33" text-anchor="middle" >*</text>
<text transform="translate(1050.70 497.00) scale(1 1.04)" font-size="33" text-anchor="middle" >*</text>
<text transform="translate(575.50 29.60) scale(1 1.04)" font-size="40" text-anchor="middle" >Males</text>
<text transform="translate(316.30 71.40) scale(1 1.04)" font-size="28" text-anchor="middle" >High Impulsive</text>
<text transform="translate(842.00 71.40) scale(1 1.04)" font-size="28" text-anchor="middle" >Low Impulsive</text>
<text transform="translate(582.50 841.40) scale(1 1.04)" font-size="34" text-anchor="middle" >Delays (s)</text>
<text transform="translate(22.90 438.80) rotate(-90) scale(1 1.04)" font-size="30.6" text-anchor="middle" xml:space="preserve">Proportion of  Delayed  Choices</text>
<text transform="translate(1175.00 264.00) rotate(90) scale(1 1.04)" font-size="33.7" text-anchor="middle" >Baseline</text>
<text transform="translate(1132.00 264.00) rotate(90) scale(1 1.04)" font-size="33.7" text-anchor="middle" >before CFA</text>
<text transform="translate(1089.50 264.00) rotate(90) scale(1 1.04)" font-size="33.7" text-anchor="middle" >&amp; Morphine</text>
<text transform="translate(1132.80 618.50) rotate(90) scale(1 1.04)" font-size="33.7" text-anchor="middle" >Days 1 - 4</text>
<text transform="translate(1089.60 618.50) rotate(90) scale(1 1.04)" font-size="33.7" text-anchor="middle" >after CFA</text>
<path d="M711.8 302.70 H780.3" stroke="#000" stroke-width="2.6" fill="none"/>
<circle cx="745.9" cy="302.70" r="7.25" fill="#fff" stroke="#000" stroke-width="2.7"/>
<text x="798.4" y="312.20" font-size="24.3" xml:space="preserve">Sal + <tspan font-family="Liberation Serif, serif" font-weight="normal" font-size="25" dx="0.6">&#946;</tspan><tspan dx="4.2">-FNA 0 mg/kg</tspan></text>
<path d="M711.8 330.60 H780.3" stroke="#a3a3a6" stroke-width="2.4" fill="none"/>
<circle cx="745.9" cy="330.60" r="7.25" fill="#a0a0a4" stroke="#000" stroke-width="2.7"/>
<text x="798.4" y="340.10" font-size="24.3" xml:space="preserve">Sal + <tspan font-family="Liberation Serif, serif" font-weight="normal" font-size="25" dx="0.6">&#946;</tspan><tspan dx="4.2">-FNA 5.0 mg/kg</tspan></text>
<path d="M711.8 358.60 H780.3" stroke="#8080ff" stroke-width="2.4" fill="none"/>
<circle cx="745.9" cy="358.60" r="7.25" fill="#8c8cf8" stroke="#000" stroke-width="2.7"/>
<text x="798.4" y="368.10" font-size="24.3" xml:space="preserve">Mor + <tspan font-family="Liberation Serif, serif" font-weight="normal" font-size="25" dx="0.6">&#946;</tspan><tspan dx="4.2">-FNA 0 mg/kg</tspan></text>
<path d="M711.8 386.80 H780.3" stroke="#000" stroke-width="2.7" stroke-dasharray="7.6 6.7" fill="none"/>
<circle cx="745.9" cy="386.80" r="7.25" fill="#ffff00" stroke="#000" stroke-width="2.7"/>
<text x="798.4" y="396.30" font-size="24.3" xml:space="preserve">Mor + <tspan font-family="Liberation Serif, serif" font-weight="normal" font-size="25" dx="0.6">&#946;</tspan><tspan dx="4.2">-FNA 5.0 mg/kg</tspan></text>
</svg></body></html>
